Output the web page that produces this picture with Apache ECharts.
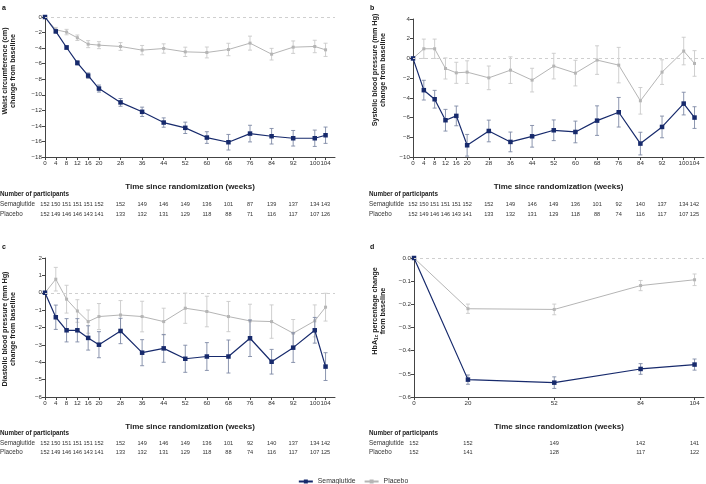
<!DOCTYPE html>
<html><head><meta charset="utf-8">
<script src="https://cdn.jsdelivr.net/npm/echarts@6/dist/echarts.min.js"></script>
<style>html,body{margin:0;padding:0;background:#fff}#c{width:706px;height:484px}</style>
</head><body><div id="c"></div>
<script>
// ---------- data ----------
const weeks = [0,4,8,12,16,20,28,36,44,52,60,68,76,84,92,100,104];
const weeksD = [0,20,52,84,104];

const waistSema   = [0,-1.85,-3.92,-5.9,-7.54,-9.2,-10.98,-12.19,-13.57,-14.25,-15.5,-16.1,-14.99,-15.33,-15.59,-15.59,-15.2];
const waistSemaSE = [0,0.2,0.25,0.28,0.35,0.45,0.5,0.6,0.6,0.73,0.75,1.0,1.07,1.0,1.0,1.05,1.05];
const waistPlac   = [0,-1.64,-1.94,-2.67,-3.49,-3.62,-3.79,-4.26,-4.05,-4.48,-4.56,-4.18,-3.36,-4.78,-3.88,-3.79,-4.22];
const waistPlacSE = [0,0.3,0.35,0.35,0.45,0.45,0.5,0.6,0.6,0.6,0.7,0.8,0.9,0.75,0.8,0.8,0.85];
const waistNSema  = [152,150,151,151,151,152,152,149,146,149,136,101,87,139,137,134,143];
const waistNPlac  = [152,149,146,146,143,141,133,132,131,129,118,88,71,116,117,107,126];

const sbpSema   = [0,-3.22,-4.14,-6.27,-5.83,-8.81,-7.36,-8.47,-7.9,-7.29,-7.46,-6.31,-5.46,-8.64,-6.95,-4.58,-6.0];
const sbpSemaSE = [0,1.0,0.9,1.1,1.0,1.1,1.1,1.0,1.1,1.05,1.1,1.5,1.5,1.15,1.1,1.15,1.1];
const sbpPlac   = [0,0.98,0.98,-1.02,-1.46,-1.39,-1.97,-1.19,-2.2,-0.78,-1.49,-0.17,-0.68,-4.3,-1.39,0.75,-0.51];
const sbpPlacSE = [0,0.98,0.98,1.07,1.07,1.15,1.2,1.35,1.2,1.3,1.3,1.45,1.8,1.35,1.25,1.4,1.3];
const sbpNSema  = [152,150,151,151,151,152,152,149,146,149,136,101,92,140,137,134,142];
const sbpNPlac  = [152,149,146,146,143,141,133,132,131,129,118,88,74,116,117,107,125];

const dbpSema   = [0,-1.41,-2.16,-2.16,-2.6,-2.99,-2.2,-3.45,-3.2,-3.8,-3.67,-3.67,-2.62,-3.97,-3.16,-2.16,-4.25];
const dbpSemaSE = [0,0.7,0.67,0.67,0.7,0.75,0.73,0.75,0.8,0.78,0.8,0.95,1.05,0.71,0.85,0.74,0.8];
const dbpPlac   = [0,0.78,-0.37,-1.05,-1.66,-1.37,-1.28,-1.37,-1.66,-0.89,-1.08,-1.37,-1.62,-1.66,-2.33,-1.62,-0.83];
const dbpPlacSE = [0,0.68,0.8,0.65,0.67,0.75,0.83,0.88,0.77,0.87,0.88,0.87,0.96,0.96,0.79,0.92,0.8];
const dbpNSema  = [152,150,151,151,151,152,152,149,146,149,136,101,92,140,137,134,142];
const dbpNPlac  = [152,149,146,146,143,141,133,132,131,129,118,88,74,116,117,107,125];

const hbaSema   = [0,-0.525,-0.538,-0.479,-0.46];
const hbaSemaSE = [0,0.02,0.025,0.023,0.024];
const hbaPlac   = [0,-0.219,-0.222,-0.119,-0.094];
const hbaPlacSE = [0,0.02,0.023,0.022,0.025];
const hbaNSema  = [152,152,149,142,141];
const hbaNPlac  = [152,141,128,117,122];

const xTitle = 'Time since randomization (weeks)';
const semaName = 'Semaglutide', placName = 'Placebo';

// ---------- layout / styles ----------
const SEMA = '#172a6c', PLAC = '#b5b5b5', SEMA_ERR = '#7f8aa6', PLAC_ERR = '#c9c9c9';
const AX = '#444', TXT = '#333';
const FONT = 'Liberation Sans, Arial, Helvetica, sans-serif';

const panels = [
  {x: weeks, s: waistSema, sse: waistSemaSE, p: waistPlac, pse: waistPlacSE, ns: waistNSema, np: waistNPlac,
   grid:{left:45, top:17, width:290, height:140}, ymin:-18, ymax:0, yint:2, dec:0,
   rowTop: 157, sRow: 204.5, pRow: 214, nopY: 194, rowX: 0, letter:'a', letterPos:[2,5],
   yname:'{b|Waist circumference (cm)}\n{b|change from baseline}', ynamePos:[9,71]},
  {x: weeks, s: sbpSema, sse: sbpSemaSE, p: sbpPlac, pse: sbpPlacSE, ns: sbpNSema, np: sbpNPlac,
   grid:{left:413, top:19, width:291, height:138}, ymin:-10, ymax:4, yint:2, dec:0,
   rowTop: 157, sRow: 204.5, pRow: 214, nopY: 194, rowX: 369, letter:'b', letterPos:[370,5],
   yname:'{b|Systolic blood pressure (mm Hg)}\n{b|change from baseline}', ynamePos:[379,70]},
  {x: weeks, s: dbpSema, sse: dbpSemaSE, p: dbpPlac, pse: dbpPlacSE, ns: dbpNSema, np: dbpNPlac,
   grid:{left:45, top:258, width:290, height:139}, ymin:-6, ymax:2, yint:1, dec:0,
   rowTop: 397, sRow: 443, pRow: 452, nopY: 433, rowX: 0, letter:'c', letterPos:[2,244],
   yname:'{b|Diastolic blood pressure (mm Hg)}\n{b|change from baseline}', ynamePos:[9,329]},
  {x: weeksD, s: hbaSema, sse: hbaSemaSE, p: hbaPlac, pse: hbaPlacSE, ns: hbaNSema, np: hbaNPlac,
   grid:{left:414, top:258, width:290, height:139}, ymin:-0.6, ymax:0, yint:0.1, dec:1,
   rowTop: 397, sRow: 443, pRow: 452, nopY: 433, rowX: 369, letter:'d', letterPos:[370,244],
   yname:'{b|HbA}{s|1c}{b| percentage change}\n{b|from baseline}', ynamePos:[379,311]}
];

function fmtY(dec){
  return function(v){
    if (Math.abs(v) < 1e-9) return dec ? (0).toFixed(dec) : '0';
    return v.toFixed(dec).replace('-', '\u2212');
  };
}

function errRender(color){
  return function(params, api){
    const x = api.value(0), lo = api.value(1), hi = api.value(2);
    const a = api.coord([x, lo]), b = api.coord([x, hi]);
    const w = 2, st = {stroke: color, lineWidth: 0.9};
    return {type:'group', children:[
      {type:'line', shape:{x1:a[0], y1:a[1], x2:b[0], y2:b[1]}, style:st},
      {type:'line', shape:{x1:a[0]-w, y1:a[1], x2:a[0]+w, y2:a[1]}, style:st},
      {type:'line', shape:{x1:b[0]-w, y1:b[1], x2:b[0]+w, y2:b[1]}, style:st}
    ]};
  };
}

const grid = [], xAxis = [], yAxis = [], series = [], graphic = [];
const XMAX = 107.5;

panels.forEach((P, k) => {
  grid.push(Object.assign({outerBoundsMode:'none', containLabel:false}, P.grid));
  xAxis.push({
    gridIndex:k, type:'value', min:0, max:XMAX, position:'bottom',
    axisLine:{show:true, onZero:false, lineStyle:{color:AX, width:1}},
    axisTick:{show:true, length:3, customValues:P.x, lineStyle:{color:AX}},
    axisLabel:{customValues:P.x, fontSize:6.2, color:TXT, margin:3.5, fontFamily:FONT, hideOverlap:false},
    splitLine:{show:false},
    name:xTitle, nameLocation:'middle', nameGap:26,
    nameTextStyle:{fontSize:8, fontWeight:'bold', color:'#222', fontFamily:FONT}
  });
  [[P.ns, P.sRow], [P.np, P.pRow]].forEach(([counts, rowY]) => {
    xAxis.push({
      gridIndex:k, type:'value', min:0, max:XMAX, position:'bottom',
      offset: rowY - 3 - P.rowTop - 3,
      axisLine:{show:false}, axisTick:{show:false}, splitLine:{show:false},
      axisLabel:{customValues:P.x, margin:3, fontSize:5.6, color:TXT, fontFamily:FONT, hideOverlap:false,
        formatter:(v) => { const i = P.x.indexOf(v); return i < 0 ? '' : String(counts[i]); }}
    });
  });
  yAxis.push({
    gridIndex:k, type:'value', min:P.ymin, max:P.ymax, interval:P.yint,
    axisLine:{show:true, lineStyle:{color:AX, width:1}},
    axisTick:{show:true, length:3, lineStyle:{color:AX}},
    axisLabel:{fontSize:6.2, color:TXT, margin:3, fontFamily:FONT, formatter:fmtY(P.dec)},
    splitLine:{show:false}
  });
  const xi = k*3;
  series.push({
    type:'custom', name:'errP'+k, xAxisIndex:xi, yAxisIndex:k, renderItem:errRender(PLAC_ERR),
    encode:{x:0, y:[1,2]}, silent:true, z:1,
    data:P.x.map((w,i) => [w, P.p[i]-P.pse[i], P.p[i]+P.pse[i]])
  });
  series.push({
    type:'line', name:placName, xAxisIndex:xi, yAxisIndex:k, z:2,
    data:P.x.map((w,i) => [w, P.p[i]]),
    symbol:'rect', symbolSize:3, color:PLAC, lineStyle:{color:PLAC, width:1},
    itemStyle:{color:PLAC},
    markLine:{silent:true, symbol:['none','none'], label:{show:false},
      lineStyle:{color:'#cfcfcf', type:[3,3], width:1}, data:[{yAxis:0}]}
  });
  series.push({
    type:'custom', name:'errS'+k, xAxisIndex:xi, yAxisIndex:k, renderItem:errRender(SEMA_ERR),
    encode:{x:0, y:[1,2]}, silent:true, z:3,
    data:P.x.map((w,i) => [w, P.s[i]-P.sse[i], P.s[i]+P.sse[i]])
  });
  series.push({
    type:'line', name:semaName, xAxisIndex:xi, yAxisIndex:k, z:4,
    data:P.x.map((w,i) => [w, P.s[i]]),
    symbol:'rect', symbolSize:4.5, color:SEMA, lineStyle:{color:SEMA, width:1.2},
    itemStyle:{color:SEMA}
  });

  // texts
  graphic.push({type:'text', x:P.letterPos[0], y:P.letterPos[1],
    style:{text:P.letter, font:'bold 7px '+FONT, fill:'#111', textVerticalAlign:'top'}});
  graphic.push({type:'text', x:P.ynamePos[0], y:P.ynamePos[1], rotation:Math.PI/2,
    style:{text:P.yname, textAlign:'center', textVerticalAlign:'middle', fill:'#222',
      rich:{b:{fontSize:7.2, fontWeight:'bold', fontFamily:FONT, lineHeight:8.5, fill:'#222'},
            s:{fontSize:4.6, fontWeight:'bold', fontFamily:FONT, lineHeight:8.5, padding:[4,0,0,0], fill:'#222'}}}});
  graphic.push({type:'text', x:P.rowX, y:P.nopY,
    style:{text:'Number of participants', font:'bold 6.3px '+FONT, fill:'#222', textVerticalAlign:'middle'}});
  graphic.push({type:'text', x:P.rowX, y:P.sRow,
    style:{text:semaName, font:'6.3px '+FONT, fill:TXT, textVerticalAlign:'middle'}});
  graphic.push({type:'text', x:P.rowX, y:P.pRow,
    style:{text:placName, font:'6.3px '+FONT, fill:TXT, textVerticalAlign:'middle'}});
});

const chart = echarts.init(document.getElementById('c'), null, {renderer:'canvas'});
chart.setOption({
  animation:false,
  backgroundColor:'#fff',
  textStyle:{fontFamily:FONT},
  grid, xAxis, yAxis, series, graphic,
  legend:{data:[semaName, placName], top:473, left:'center', itemWidth:14, itemHeight:5, itemGap:8,
    textStyle:{fontSize:6.8, color:TXT, fontFamily:FONT}, selectedMode:false}
});
</script></body></html>
